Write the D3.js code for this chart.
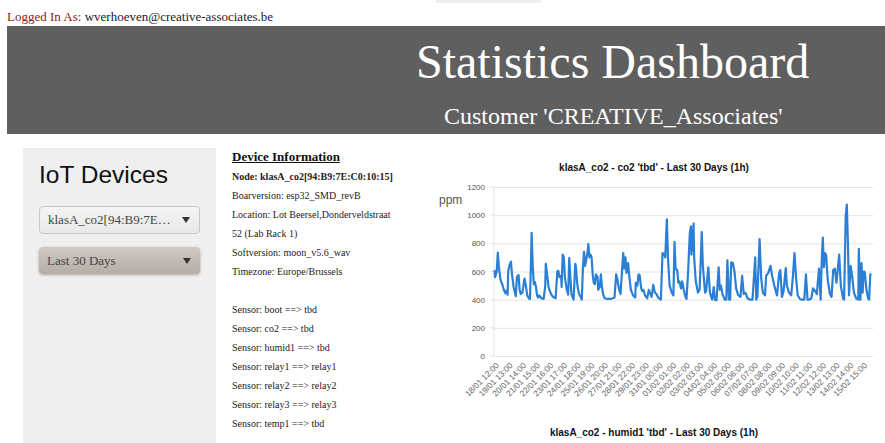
<!DOCTYPE html>
<html>
<head>
<meta charset="utf-8">
<script src="https://cdn.jsdelivr.net/npm/d3@7"></script>
<style>
  html, body { margin: 0; padding: 0; background: #fff; overflow: hidden; }
  body { width: 885px; height: 443px; position: relative; font-family: "Liberation Serif", serif; }
  .abs { position: absolute; white-space: nowrap; }
  .select { position: absolute; left: 39px; width: 161px; box-sizing: border-box; border-radius: 4px; font-size: 13px; color: #444; padding-left: 8px; }
  .select:after { content: ""; position: absolute; right: 9px; top: 50%; margin-top: -3px; border-left: 4.5px solid transparent; border-right: 4.5px solid transparent; border-top: 6px solid #333; }
  .info { position: absolute; left: 232px; font-size: 10px; color: #222; white-space: nowrap; line-height: 12px; }
  svg { position: absolute; left: 0; top: 0; }
  svg text { font-family: "Liberation Sans", Arial, sans-serif; }
  .grid line { stroke: #e4e4e4; }
  .grid path, .xaxis path, .xaxis line { display: none; }
</style>
</head>
<body>
<div class="abs" style="left:436px;top:0;width:105px;height:3px;background:#eee"></div>
<div class="abs" style="left:7px;top:9px;font-size:13px;line-height:15px;color:#222"><span style="color:#8b1a1a">Logged In As:</span> wverhoeven@creative-associates.be</div>
<div class="abs" style="left:7px;top:26px;width:878px;height:108px;background:#5f5f5f"></div>
<div class="abs" style="left:416px;top:34px;font-size:48px;line-height:55px;color:#fff">Statistics Dashboard</div>
<div class="abs" style="left:444px;top:103px;font-size:24px;line-height:27px;color:#fff">Customer 'CREATIVE_Associates'</div>
<div class="abs" style="left:23px;top:148px;width:193px;height:295px;background:#efefef"></div>
<div class="abs" style="left:39px;top:160px;font-family:'Liberation Sans',sans-serif;font-size:24.5px;line-height:29px;color:#111">IoT Devices</div>
<div class="select" style="top:206px;height:28px;line-height:26px;background:linear-gradient(#f4f4f4,#e8e8e8);border:1px solid #c8c8c8">klasA_co2[94:B9:7E…</div>
<div class="select" style="top:247px;height:27px;line-height:27px;background:linear-gradient(#cfc8c3,#b5aca6);box-shadow:0 1px 3px rgba(0,0,0,.3)">Last 30 Days</div>
<div id="info"></div>
<svg id="chart" width="885" height="443"></svg>
<script>
const infoLines = [
  "Node: klasA_co2[94:B9:7E:C0:10:15]", "Boarversion: esp32_SMD_revB",
  "Location: Lot Beersel,Donderveldstraat", "52 (Lab Rack 1)",
  "Softversion: moon_v5.6_wav", "Timezone: Europe/Brussels", "",
  "Sensor: boot ==> tbd", "Sensor: co2 ==> tbd", "Sensor: humid1 ==> tbd",
  "Sensor: relay1 ==> relay1", "Sensor: relay2 ==> relay2",
  "Sensor: relay3 ==> relay3", "Sensor: temp1 ==> tbd"
];

const yTicks = [0, 200, 400, 600, 800, 1000, 1200];
const xLabels = [
  "18/01 12:00", "19/01 13:00", "20/01 14:00", "21/01 15:00", "22/01 16:00", "23/01 17:00", "24/01 18:00",
  "25/01 19:00", "26/01 20:00", "27/01 21:00", "28/01 22:00", "29/01 23:00", "31/01 00:00", "01/02 01:00",
  "02/02 02:00", "03/02 03:00", "04/02 04:00", "05/02 05:00", "06/02 06:00", "07/02 07:00", "08/02 08:00",
  "09/02 09:00", "10/02 10:00", "11/02 11:00", "12/02 12:00", "13/02 13:00", "14/02 14:00", "15/02 15:00"
];
const hoursBetweenLabels = 25;

// hours since the first label, and ppm
const hours = [
  1, 2, 5, 7, 9, 12, 15, 18, 21, 23, 25, 26, 28, 31, 33, 36, 39, 40, 42, 45, 47, 49, 52, 54, 56, 58, 61, 64, 66, 68,
  69, 71, 73, 75, 77, 79, 81, 83, 87, 91, 94, 95, 98, 100, 104, 108, 113, 116, 118, 120, 123, 124, 126, 128, 130, 133,
  136, 138, 140, 142, 146, 149, 150, 153, 156, 159, 161, 163, 165, 167, 169, 172, 173, 175, 177, 179, 181, 183, 185,
  187, 190, 191, 194, 196, 198, 200, 203, 208, 214, 218, 221, 224, 226, 229, 232, 235, 237, 239, 241, 243, 246, 248,
  251, 255, 259, 260, 263, 265, 267, 270, 272, 274, 277, 281, 284, 287, 289, 292, 295, 298, 301, 306, 309, 312, 314,
  317, 319, 322, 326, 329, 331, 333, 336, 338, 340, 343, 345, 348, 351, 353, 356, 359, 361, 362, 366, 367, 370, 374,
  377, 381, 383, 387, 389, 393, 396, 400, 403, 405, 408, 412, 414, 416, 419, 423, 426, 428, 431, 433, 435, 438, 441,
  444, 448, 452, 455, 458, 461, 465, 469, 474, 476, 479, 481, 483, 487, 490, 493, 497, 499, 503, 507, 510, 514, 519,
  523, 525, 528, 531, 535, 537, 541, 545, 548, 551, 554, 557, 561, 565, 569, 572, 575, 578, 582, 585, 589, 592, 596,
  599, 601, 603, 605, 607, 609, 612, 616, 619, 622, 625, 628, 630, 633, 636, 640, 642, 645, 647, 649, 651, 654, 657,
  660, 664, 668, 669, 671, 672, 674, 676, 678, 680, 683, 686, 688, 690, 692
];
const ppm = [
  610, 560, 600, 735, 630, 540, 510, 470, 445, 465, 435, 600, 640, 670, 580, 490, 440, 425, 560, 575, 470, 440, 450, 500, 550, 510, 430, 410, 405, 700,
  875, 640, 510, 525, 490, 430, 415, 430, 410, 405, 500, 655, 560, 490, 445, 420, 410, 600, 605, 560, 570, 490, 720, 700, 560, 480,
  435, 695, 560, 440, 400, 655, 640, 500, 440, 420, 400, 620, 740, 640, 680, 750, 795, 700, 720, 700, 580, 520, 510,
  580, 560, 470, 490, 580, 490, 440, 410, 405, 405, 410, 415, 580, 550, 480, 440, 620, 730, 620, 700, 590, 660, 570,
  470, 430, 415, 520, 500, 580, 575, 480, 460, 470, 430, 410, 470, 440, 420, 505, 450, 440, 415, 400, 730, 725, 700,
  970, 700, 500, 450, 430, 810, 620, 610, 520, 530, 480, 530, 470, 420, 405, 600, 870, 920, 720, 940, 700, 530, 450,
  470, 880, 640, 450, 460, 630, 450, 400, 490, 400, 395, 630, 470, 500, 440, 400, 400, 680, 400, 400, 665, 660, 600,
  480, 430, 420, 570, 440, 450, 410, 400, 400, 520, 700, 400, 420, 830, 550, 450, 430, 570, 590, 640, 570, 500, 430,
  590, 610, 420, 460, 625, 500, 450, 430, 560, 730, 550, 430, 405, 400, 400, 580, 400, 400, 410, 480, 460, 440, 620,
  400, 680, 840, 630, 730, 720, 540, 440, 420, 610, 620, 520, 600, 720, 500, 410, 400, 1000, 1075, 800, 430, 640, 560,
  450, 410, 400, 760, 500, 400, 660, 450, 600, 595, 470, 410, 400, 580, 575
];

const bodySel = d3.select("#info");
bodySel.selectAll("div").data(infoLines).enter().append("div")
  .attr("class", "info")
  .style("top", (d, i) => (171 + i * 19) + "px")
  .style("font-weight", (d, i) => i == 0 ? "bold" : "normal")
  .text(d => d);
bodySel.append("div").attr("class", "info")
  .style("top", "150px").style("font-size", "13px").style("line-height", "14px")
  .style("font-weight", "bold").style("text-decoration", "underline").style("color", "#111")
  .text("Device Information");

const svg = d3.select("#chart");
const x = d3.scaleLinear().domain([0, 695]).range([494, 873]);
const y = d3.scaleLinear().domain([0, 1200]).range([356, 187]);

svg.append("g").attr("class", "grid")
  .attr("transform", "translate(494,0)")
  .call(d3.axisLeft(y).tickValues(yTicks).tickSize(-379).tickPadding(8).tickFormat(d3.format("d")))
  .call(g => g.selectAll("text").attr("font-size", 8).attr("fill", "#555").attr("x", -9))
  .call(g => g.append("line").attr("y1", y(0)).attr("y2", y(1200)));

svg.append("g").attr("class", "ticks")
  .selectAll("line").data(yTicks).enter().append("line")
  .attr("x1", 490).attr("x2", 494)
  .attr("y1", d => y(d)).attr("y2", d => y(d))
  .attr("stroke", "#e4e4e4");

const tickHours = xLabels.map((d, i) => i * hoursBetweenLabels);
svg.append("g").attr("class", "xaxis")
  .attr("transform", `translate(0,${y(0)})`)
  .call(d3.axisBottom(x).tickValues(tickHours).tickFormat((d, i) => xLabels[i]))
  .selectAll("text")
  .attr("font-size", 8.3).attr("fill", "#666")
  .attr("text-anchor", "end")
  .attr("transform", "translate(3,8) rotate(-45)")
  .attr("x", 0).attr("y", 0).attr("dy", "0.35em");

const line = d3.line().x(d => x(d[0])).y(d => y(d[1]));
svg.append("path")
  .datum(hours.map((h, i) => [h, ppm[i]]))
  .attr("d", line)
  .attr("fill", "none")
  .attr("stroke", "#2b80d6")
  .attr("stroke-width", 2.2)
  .attr("stroke-linejoin", "round");

svg.append("text").attr("x", 439).attr("y", 204)
  .attr("font-size", 12).attr("fill", "#555").text("ppm");

svg.selectAll("text.title")
  .data([
    { t: "klasA_co2 - co2 'tbd' - Last 30 Days (1h)", cy: 171 },
    { t: "klasA_co2 - humid1 'tbd' - Last 30 Days (1h)", cy: 436 }
  ])
  .enter().append("text")
  .attr("class", "title")
  .attr("x", 654).attr("y", d => d.cy)
  .attr("text-anchor", "middle")
  .attr("font-size", 10).attr("font-weight", "bold").attr("fill", "#111")
  .text(d => d.t);
</script>
</body>
</html>
